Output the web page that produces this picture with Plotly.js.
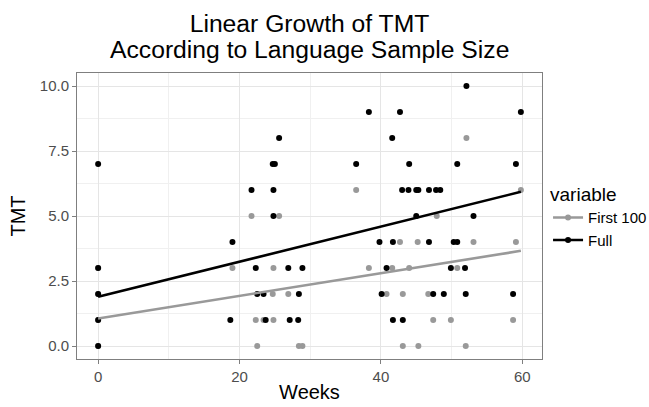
<!DOCTYPE html>
<html>
<head>
<meta charset="utf-8">
<script src="https://cdn.plot.ly/plotly-3.0.1.min.js"></script>
<style>html,body{margin:0;padding:0;background:#fff;}#chart{width:649px;height:407px;}</style>
</head>
<body>
<div id="chart"></div>
<script>
// Full (black) points
var fullWeeks = [0,0,0,0,0,19.0,18.7,25.6,24.7,25.0,21.7,24.8,24.8,22.3,26.9,28.9,22.5,23.4,28.4,23.7,27.1,28.3,
  38.3,36.5,39.8,40.8,40.1,52.1,42.7,59.8,41.6,44.0,50.8,59.1,43.0,43.9,45.0,45.3,46.8,47.8,48.4,45.0,53.1,
  41.7,46.8,50.3,50.8,49.9,51.9,47.4,48.9,52.0,58.7,41.7,43.1];
var fullTMT = [7,3,2,1,0,4,1,8,7,7,6,6,5,3,3,3,2,2,2,1,1,1,
  9,7,4,3,2,10,9,9,8,7,7,7,6,6,6,6,6,6,6,5,5,
  4,4,4,4,3,3,2,2,2,2,1,1];
// First 100 (grey) points
var firstWeeks = [0,0,0,0,19.0,21.7,25.6,24.8,24.7,26.9,22.3,23.4,24.8,22.5,28.4,28.9,
  36.5,38.3,40.8,52.1,59.8,47.9,42.7,45.2,53.1,59.1,41.6,44.0,50.8,43.1,46.7,47.4,49.9,58.7,43.1,45.3,52.0];
var firstTMT = [0,1,2,3,3,5,5,3,2,2,1,1,1,0,0,0,
  6,3,2,8,6,5,4,4,4,4,3,3,3,2,2,1,1,1,0,0,0];
// Linear fits
var fitWeeks = [0, 59.8];
var fullFit = [1.89, 5.93];
var firstFit = [1.06, 3.66];
var titleLines = ['Linear Growth of TMT', 'According to Language Sample Size'];

var FONT = 'Liberation Sans, Arial, sans-serif';
var grey = '#999999', black = '#000000';
var traces = [
  {x: firstWeeks, y: firstTMT, type: 'scatter', mode: 'markers', marker: {color: grey, size: 6}, showlegend: false},
  {x: fullWeeks, y: fullTMT, type: 'scatter', mode: 'markers', marker: {color: black, size: 6}, showlegend: false},
  {x: fitWeeks, y: firstFit, type: 'scatter', mode: 'lines', line: {color: grey, width: 2.6}, showlegend: false},
  {x: fitWeeks, y: fullFit, type: 'scatter', mode: 'lines', line: {color: black, width: 2.6}, showlegend: false},
  {x: [null], y: [null], type: 'scatter', mode: 'lines+markers', name: 'First 100', line: {color: grey, width: 2.6}, marker: {color: grey, size: 6}},
  {x: [null], y: [null], type: 'scatter', mode: 'lines+markers', name: 'Full', line: {color: black, width: 2.6}, marker: {color: black, size: 6}}
];
var axisCommon = {
  showline: true, mirror: true, linecolor: '#7f7f7f', linewidth: 1,
  showgrid: true, gridcolor: '#e5e5e5', gridwidth: 1, zeroline: false,
  ticks: 'outside', ticklen: 4, tickcolor: '#7f7f7f', tickwidth: 1,
  tickfont: {family: FONT, size: 15, color: '#4d4d4d'}
};
var layout = {
  width: 649, height: 407,
  margin: {l: 77, r: 107, t: 73, b: 48, autoexpand: false},
  paper_bgcolor: '#ffffff', plot_bgcolor: '#ffffff',
  font: {family: FONT, color: '#000'},
  title: {text: titleLines[0], font: {family: FONT, size: 24.7, color: '#000'},
          x: 0.5, xref: 'paper', xanchor: 'center', y: 1 - 23.6/407, yref: 'container', yanchor: 'middle'},
  annotations: [{text: titleLines[1], xref: 'paper', yref: 'paper', x: 0.5, y: 1.0818, xanchor: 'center', yanchor: 'middle',
    showarrow: false, font: {family: FONT, size: 24.7, color: '#000'}}],
  xaxis: Object.assign({}, axisCommon, {range: [-2.99, 62.79], tickvals: [0,20,40,60], ticktext: ['0','20','40','60'],
    minor: {tickvals: [10,30,50], showgrid: true, gridcolor: '#f0f0f0', ticks: ''},
    title: {text: 'Weeks', font: {family: FONT, size: 20, color: '#000'}, standoff: 0}}),
  yaxis: Object.assign({}, axisCommon, {range: [-0.5, 10.5], tickvals: [0,2.5,5,7.5,10], ticktext: ['0.0','2.5','5.0','7.5','10.0'],
    minor: {tickvals: [1.25,3.75,6.25,8.75], showgrid: true, gridcolor: '#f0f0f0', ticks: ''},
    title: {text: 'TMT', font: {family: FONT, size: 20, color: '#000'}, standoff: 8}}),
  legend: {x: 1.013, xanchor: 'left', y: 0.638, yanchor: 'top', itemwidth: 30,
    title: {text: 'variable', font: {family: FONT, size: 19, color: '#000'}},
    font: {family: FONT, size: 15, color: '#000'}, bgcolor: 'rgba(0,0,0,0)', tracegroupgap: 0}
};
Plotly.newPlot('chart', traces, layout, {displayModeBar: false, staticPlot: true});
</script>
</body>
</html>
